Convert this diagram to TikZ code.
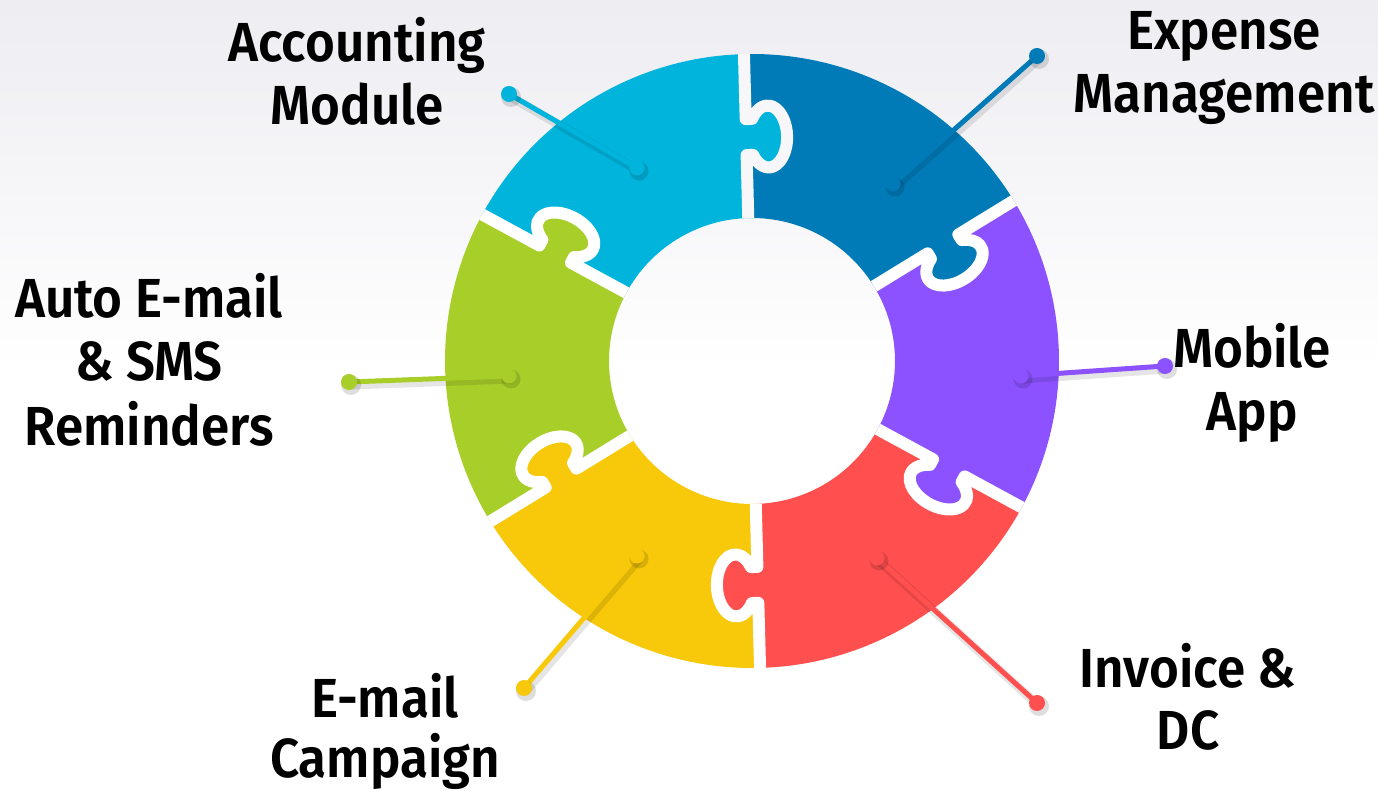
\documentclass[tikz,border=0pt]{standalone}
\usepackage{fontspec}
\setmainfont{Fira Sans}[BoldFont={Fira Sans SemiBold}, BoldFeatures={FakeStretch=0.93}]
\definecolor{cLB}{HTML}{00B4DC}
\definecolor{cDB}{HTML}{007BB8}
\definecolor{cP}{HTML}{8C52FF}
\definecolor{cR}{HTML}{FF4F4F}
\definecolor{cY}{HTML}{F8C80A}
\definecolor{cG}{HTML}{A8CE2A}
\definecolor{bgTop}{RGB}{237,237,242}
\definecolor{gapTop}{RGB}{247,247,250}
\tikzset{
  lbl/.style={font=\fontsize{55}{63}\selectfont\bfseries, anchor=base, inner sep=0pt, text=black},
  gapline/.style={line width=12pt, line join=round},
  connline/.style={line width=5pt, line cap=round},
  shadowline/.style={black, opacity=0.10, line width=9pt, line cap=round},
}
\newcommand\connector[3]{%
  \draw[shadowline] ([shift={(2,-3)}]#1) -- ([shift={(2,-3)}]#2);
  \draw[connline, #3] (#1) -- (#2);
  \fill[black, opacity=0.13] ([shift={(2,-3)}]#1) circle (10);
  \fill[black, opacity=0.13] ([shift={(2,-3)}]#2) circle (9.5);
  \fill[#3] (#1) circle (8);
  \fill[#3] (#2) circle (7.5);
}
\begin{document}
\begin{tikzpicture}[x=1pt, y=1pt]
\useasboundingbox (0,0) rectangle (1378,791);
\fill[white] (0,0) rectangle (1378,791);
\shade[top color=bgTop, bottom color=white] (0,791) rectangle (1378,420);
% sectors
\foreach \a/\b/\c in {151.5/91.5/cLB, 91.5/31.5/cDB, 31.5/-28.5/cP, -28.5/-88.5/cR, -88.5/-148.5/cY, -148.5/-208.5/cG}{
  \fill[\c] ([shift={(752,430)}]\a:307) arc[start angle=\a, end angle=\b, radius=307]
     -- ([shift={(752,430)}]\b:143) arc[start angle=\b, end angle=\a, radius=143] -- cycle;
}
% knobs
\foreach \b/\c in {91.5/cLB, 31.5/cDB, -28.5/cP, -88.5/cR, -148.5/cY, -208.5/cG}{
  \begin{scope}[shift={(752,430)}, rotate=\b]
    \fill[\c] (206,3) -- (206,-6.5) arc[start angle=125.5, end angle=414.5, x radius=31, y radius=19] -- (242,3) -- cycle;
  \end{scope}
}
% gaps
\foreach \b/\g in {91.5/gapTop, 31.5/white, -28.5/white, -88.5/white, -148.5/white, -208.5/white}{
  \begin{scope}[shift={(752,430)}, rotate=\b]
    \draw[gapline, \g] (143,0) -- (206,0) -- (206,-6.5) arc[start angle=125.5, end angle=414.5, x radius=31, y radius=19] -- (242,0) -- (307,0);
  \end{scope}
}
% connectors
\coordinate (lbO) at (509,697); \coordinate (lbI) at (637,623);
\coordinate (dbO) at (1037,735); \coordinate (dbI) at (893,607);
\coordinate (pO) at (1165,425); \coordinate (pI) at (1021,415);
\coordinate (rO) at (1037,88); \coordinate (rI) at (877,233);
\coordinate (yO) at (524,103); \coordinate (yI) at (637,235);
\coordinate (gO) at (349,409); \coordinate (gI) at (509,415);
\connector{lbO}{lbI}{cLB}
\connector{dbO}{dbI}{cDB}
\connector{pO}{pI}{cP}
\connector{rO}{rI}{cR}
\connector{yO}{yI}{cY}
\connector{gO}{gI}{cG}
% labels
\node[lbl] (acc1) at (357,729) {Accounting};
\node[lbl] (acc2) at (357,666) {Module};
\node[lbl] (exp1) at (1224,741) {Expense};
\node[lbl] (exp2) at (1224,678) {Management};
\node[lbl] (mob1) at (1252,423) {Mobile};
\node[lbl] (mob2) at (1252,360) {App};
\node[lbl] (inv1) at (1188,103) {Invoice \&};
\node[lbl] (inv2) at (1188,41) {DC};
\node[lbl] (em1) at (385,73) {E-mail};
\node[lbl] (em2) at (385,13) {Campaign};
\node[lbl] (au1) at (149,473) {Auto E-mail};
\node[lbl] (au2) at (149,410) {\& SMS};
\node[lbl] (au3) at (149,345) {Reminders};
\end{tikzpicture}
\end{document}
